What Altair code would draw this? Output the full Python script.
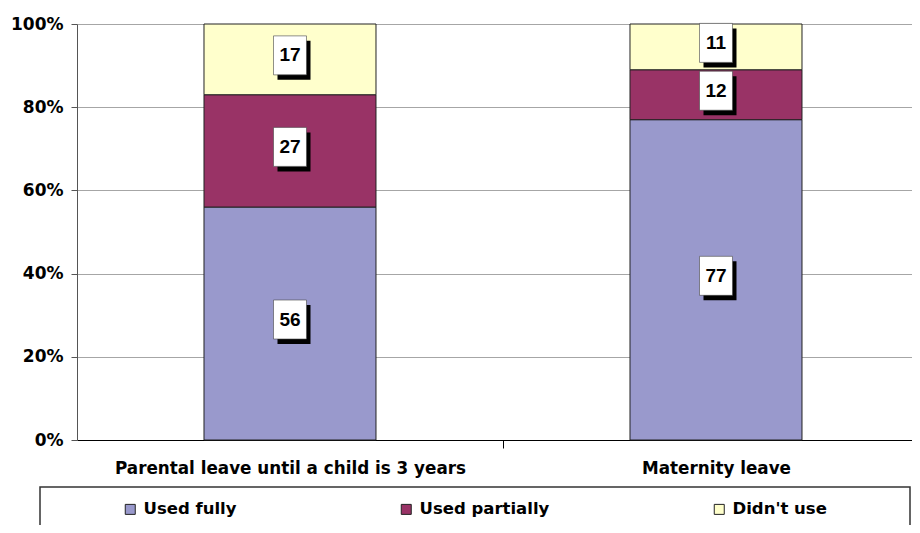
import altair as alt
import pandas as pd

categories = ["Parental leave until a child is 3 years", "Maternity leave"]
series = ["Used fully", "Used partially", "Didn't use"]
used_fully = [56, 77]
used_partially = [27, 12]
didnt_use = [17, 11]
colors = ["#9999CC", "#993366", "#FFFFCC"]
y_ticks = [0, 20, 40, 60, 80, 100]

rows = []
for i, c in enumerate(categories):
    for j, vals in enumerate([used_fully, used_partially, didnt_use]):
        rows.append({"category": c, "idx": i, "series": series[j], "value": vals[i], "order": j})
df = pd.DataFrame(rows)

base = alt.Chart(df).transform_stack(
    stack="value", groupby=["category"], as_=["y0", "y1"],
    sort=[alt.SortField("order", order="ascending")]
).transform_calculate(mid="(datum.y0 + datum.y1) / 2")

label_expr = "datum.value == 0 ? '%s' : (datum.value == 1 ? '%s' : '')" % (categories[0], categories[1])
x_scale = alt.Scale(domain=[-0.5, 1.4601], nice=False, zero=False, padding=0)

x_enc = alt.X(
    "idx:Q", title=None, scale=x_scale,
    axis=alt.Axis(values=[0, 0.5, 1], labelExpr=label_expr, labelAngle=0, labelLimit=600,
                  labelOverlap=False, labelFlush=False, labelBound=False,
                  domainColor="black",
                  tickColor={"condition": {"test": "datum.value == 0.5", "value": "black"},
                             "value": "transparent"},
                  tickSize=8, labelPadding=12, labelFont="DejaVu Sans", labelFontWeight="bold",
                  labelFontSize=16.8, labelColor="black", grid=False),
)
y_scale = alt.Scale(domain=[0, 100], nice=False)

bars = base.mark_bar(width=172, stroke="#222222", strokeWidth=1).encode(
    x=x_enc,
    y=alt.Y("y0:Q", scale=y_scale, title=None,
            axis=alt.Axis(values=y_ticks, labelExpr="datum.value + '%'", gridColor="#a6a6a6",
                          domainColor="#555555", tickColor="#555555", tickSize=6, labelPadding=8,
                          labelFont="DejaVu Sans", labelFontWeight="bold", labelFontSize=17,
                          labelColor="black")),
    y2="y1:Q",
    color=alt.Color("series:N", sort=series, title=None,
                    scale=alt.Scale(domain=series, range=colors),
                    legend=alt.Legend(orient="none", legendX=45, legendY=477, direction="horizontal",
                                      columns=3, columnPadding=161, symbolType="square",
                                      symbolSize=100, symbolStrokeColor="#222222",
                                      symbolStrokeWidth=1, labelFont="DejaVu Sans",
                                      labelFontWeight="bold", labelFontSize=16.5, labelColor="black",
                                      labelOffset=5)),
    order=alt.Order("order:Q"),
)

box_path = "M-0.846,-1L0.846,-1L0.846,1L-0.846,1Z"
box_size = 1521

shadow = base.mark_point(shape=box_path, size=box_size, filled=True, fill="black", opacity=1,
                         strokeWidth=0, xOffset=4, yOffset=1).encode(
    x=alt.X("idx:Q", scale=x_scale),
    y=alt.Y("mid:Q", scale=y_scale),
)
box = base.mark_point(shape=box_path, size=box_size, filled=True, fill="white", opacity=1,
                      stroke="#444444", strokeWidth=0.6, yOffset=-4).encode(
    x=alt.X("idx:Q", scale=x_scale),
    y=alt.Y("mid:Q", scale=y_scale),
)
labels = base.mark_text(font="Liberation Sans", fontSize=19, fontWeight="bold", color="black",
                        baseline="middle", yOffset=-4).encode(
    x=alt.X("idx:Q", scale=x_scale),
    y=alt.Y("mid:Q", scale=y_scale),
    text="value:Q",
)

frame = alt.Chart(alt.Data(values=[{"f": 1}])).mark_rect(
    fill="transparent", stroke="#333333", strokeWidth=1.5
).encode(x=alt.value(-37), x2=alt.value(833), y=alt.value(463), y2=alt.value(530))

chart = alt.layer(bars, shadow, box, labels, frame).properties(
    width=835, height=416,
    padding={"left": 69, "top": 16, "right": 0, "bottom": 85},
    autosize=alt.AutoSizeParams(type="none"),
).configure_view(stroke=None)

chart.save("out.html", embed_options={"renderer": "svg", "actions": False})
